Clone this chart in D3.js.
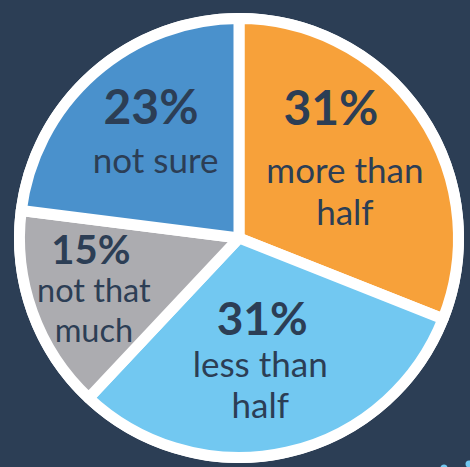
<!DOCTYPE html>
<html>
<head>
<meta charset="utf-8">
<script src="https://cdn.jsdelivr.net/npm/d3@7"></script>
<style>
  html, body { margin: 0; padding: 0; background: #2c3e55; }
  svg { display: block; }
</style>
</head>
<body>
<svg id="chart" width="470" height="467"></svg>
<script>
// ---- data ----
const categories = ["more than half", "less than half", "not that much", "not sure"];
const values = [31, 31, 15, 23];
const pctLabels = ["31%", "31%", "15%", "23%"];
const textLines = [["more than", "half"], ["less than", "half"], ["not that", "much"], ["not sure"]];

// ---- styles / layout ----
const colors = ["#f7a13a", "#72c8f1", "#acacb0", "#4a91cc"];
const bg = "#2c3e55";
const ink = "#2c3e55";
const cx = 239, cy = 238;
const ringR = 225, sliceR = 214, gap = 11;
// per-slice label layout: radius along slice mid-angle, offsets
const labelLayout = [
  { r: 122, pdx: -9, pdy: -44, psize: 48, tdx: 5, tdy: 14, lh: 42, tsize: 35 },
  { r: 120, pdx: -3, pdy: -20, psize: 46, tdx: -5, tdy: 21.5, lh: 41, tsize: 35 },
  { r: 150, pdx: -7, pdy: -25, psize: 40, tdx: -4, tdy: 13.5, lh: 39.3, tsize: 32.5 },
  { r: 130, pdx: -2, pdy: -16.5, psize: 48, tdx: 2.5, tdy: 32.2, lh: 42, tsize: 35 }
];

const svg = d3.select("#chart");
svg.append("rect").attr("width", 470).attr("height", 467).attr("fill", bg);

const g = svg.append("g").attr("transform", `translate(${cx},${cy})`);

const pie = d3.pie().sort(null).value(d => d.value);
const data = pie(categories.map((c, i) => ({ cat: c, value: values[i], i })));

g.append("circle").attr("r", ringR).attr("fill", "#ffffff");

const arc = d3.arc().innerRadius(0).outerRadius(sliceR + gap / 2);

g.selectAll("path.slice")
  .data(data)
  .join("path")
  .attr("class", "slice")
  .attr("d", arc)
  .attr("fill", d => colors[d.data.i])
  .attr("stroke", "#ffffff")
  .attr("stroke-width", gap)
  .attr("stroke-linejoin", "round");

data.forEach(d => {
  const i = d.data.i;
  const L = labelLayout[i];
  const mid = (d.startAngle + d.endAngle) / 2;
  const ax = Math.sin(mid) * L.r;
  const ay = -Math.cos(mid) * L.r;
  g.append("text")
    .attr("x", ax + L.pdx)
    .attr("y", ay + L.pdy)
    .attr("text-anchor", "middle")
    .attr("font-family", "Lato, 'Open Sans', sans-serif")
    .attr("font-weight", 700)
    .attr("font-size", L.psize)
    .attr("fill", ink)
    .text(pctLabels[i]);
  textLines[i].forEach((line, k) => {
    g.append("text")
      .attr("x", ax + L.tdx)
      .attr("y", ay + L.tdy + k * L.lh)
      .attr("text-anchor", "middle")
      .attr("font-family", "Lato, 'Open Sans', sans-serif")
      .attr("font-weight", 400)
      .attr("font-size", L.tsize)
      .attr("fill", ink)
      .text(line);
  });
});

// small decorative dots at the bottom-right edge (partially visible element)
svg.append("circle").attr("cx", 444).attr("cy", 468).attr("r", 3.5).attr("fill", "#72c8f1");
svg.append("circle").attr("cx", 469).attr("cy", 464).attr("r", 3.5).attr("fill", "#72c8f1");
</script>
</body>
</html>
